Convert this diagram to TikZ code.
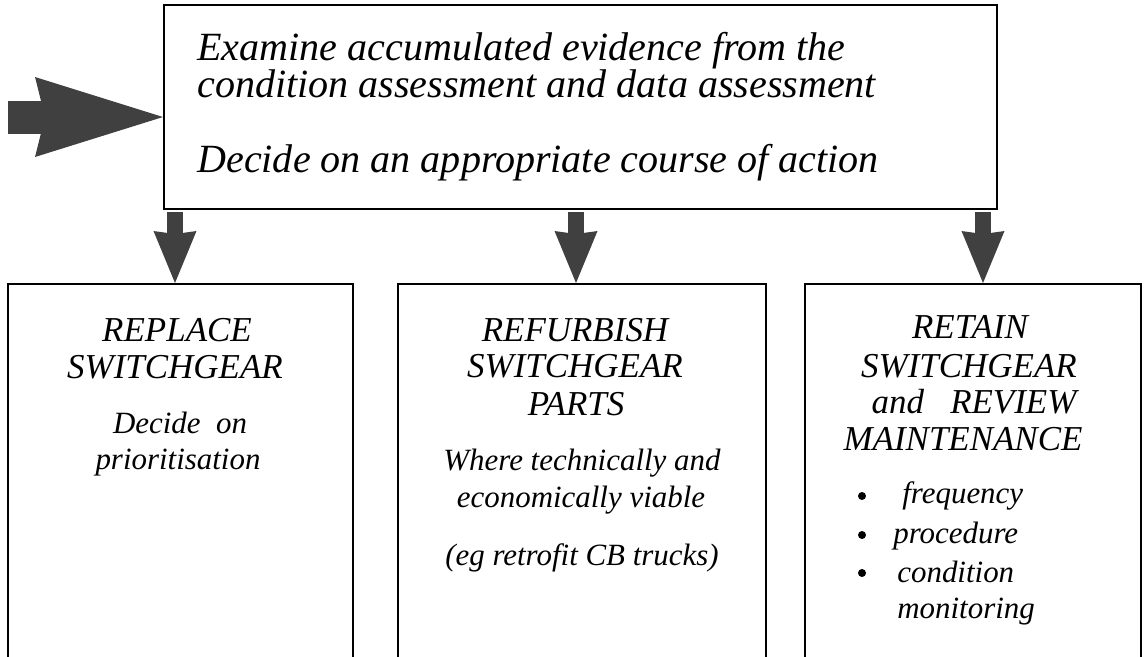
\documentclass[tikz,border=0pt]{standalone}
\usepackage{fontspec}
\setmainfont{Liberation Serif}
\usetikzlibrary{arrows.meta}
\definecolor{arrowgray}{HTML}{404040}
\tikzset{
  box/.style={draw,line width=1pt,inner sep=0pt,anchor=north west},
  bigtxt/.style={font=\fontsize{22.8}{21}\selectfont\itshape,inner sep=0pt,anchor=base west},
  headtxt/.style={font=\fontsize{19.9}{21}\selectfont\itshape,inner sep=0pt,anchor=base},
  subtxt/.style={font=\fontsize{17.6}{20}\selectfont\itshape,inner sep=0pt,anchor=base},
  dot/.style={circle,fill,inner sep=0pt,minimum size=0.16cm},
  fatarrow/.style={draw=arrowgray,line width=0.66cm,
    -{Stealth[length=2.56cm,width=1.6cm,inset=0.2cm,line width'=0pt]}},
  downarrow/.style={draw=arrowgray,line width=0.33cm,
    -{Stealth[length=1.04cm,width=0.86cm,inset=0.06cm,line width'=0pt]}},
}
\begin{document}
\begin{tikzpicture}[x=0.02cm,y=-0.02cm]
\useasboundingbox (0,0) rectangle (1148,656);
\clip (0,0) rectangle (1148,656);

\node[box,minimum width=16.66cm,minimum height=4.08cm] (top) at (163,4) {};
\node[bigtxt] (exa1) at (197,60) {Examine accumulated evidence from the};
\node[bigtxt] (exa2) at (197,97) {condition assessment and data assessment};
\node[bigtxt] (dec) at (197,172) {Decide on an appropriate course of action};

\coordinate (src) at (8,117);
\draw[fatarrow] (src) -- (src -| top.west);

\node[box,minimum width=6.9cm,minimum height=7.74cm] (rep) at (7,283) {};
\node[box,minimum width=7.36cm,minimum height=7.74cm] (ref) at (397,283) {};
\node[box,minimum width=6.72cm,minimum height=7.74cm] (ret) at (804,283) {};

\coordinate (a1) at (175,212);
\coordinate (a2) at (576,212);
\coordinate (a3) at (983,212);
\draw[downarrow] (a1) -- (a1 |- rep.north);
\draw[downarrow] (a2) -- (a2 |- ref.north);
\draw[downarrow] (a3) -- (a3 |- ret.north);

\node[headtxt] (rep1) at (177,341) {REPLACE};
\node[headtxt] (rep2) at (175,378) {SWITCHGEAR};
\node[subtxt] (rep3) at (180,433) {Decide\ \ on};
\node[subtxt] (rep4) at (178,469) {prioritisation};

\node[headtxt] (ref1) at (575,341) {REFURBISH};
\node[headtxt] (ref2) at (575,377) {SWITCHGEAR};
\node[headtxt] (ref3) at (576,415) {PARTS};
\node[subtxt] (ref4) at (582,470) {Where technically and};
\node[subtxt] (ref5) at (581,507) {economically viable};
\node[subtxt] (ref6) at (582,565) {(eg retrofit CB trucks)};

\node[headtxt] (ret1) at (970,338) {RETAIN};
\node[headtxt] (ret2) at (969,377) {SWITCHGEAR};
\node[headtxt] (ret3) at (974,413) {and\ \ \ REVIEW};
\node[headtxt] (ret4) at (963,450) {MAINTENANCE};
\node[dot] (b1) at (862,496) {};
\node[dot] (b2) at (862,535) {};
\node[dot] (b3) at (862,573) {};
\node[subtxt,anchor=base west] (ret5) at (902,503) {frequency};
\node[subtxt,anchor=base west] (ret6) at (893,543) {procedure};
\node[subtxt,anchor=base west] (ret7) at (897,582) {condition};
\node[subtxt,anchor=base west] (ret8) at (897,618) {monitoring};
\end{tikzpicture}
\end{document}
